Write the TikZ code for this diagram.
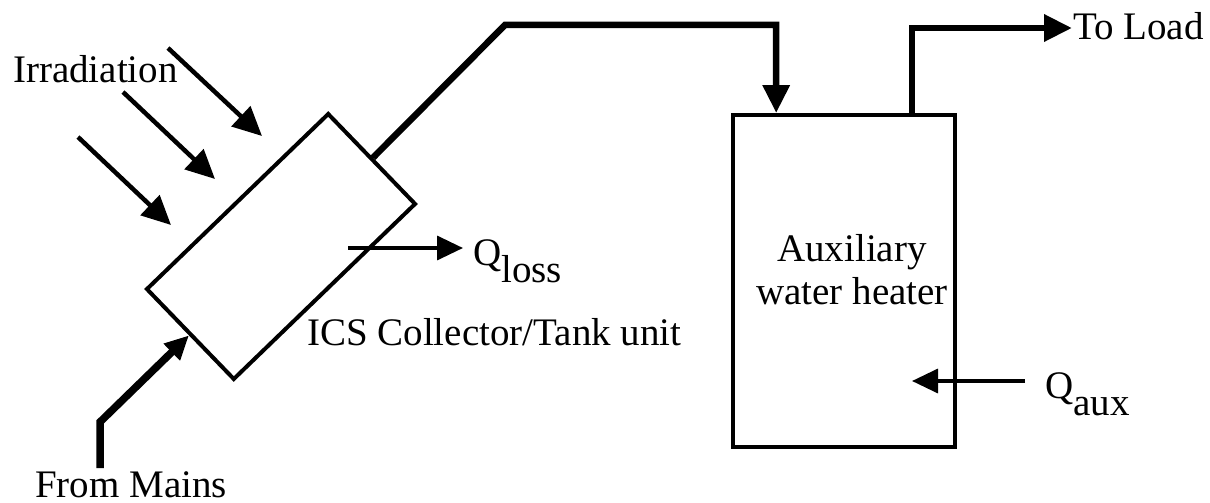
\documentclass[tikz,border=0pt]{standalone}
\usepackage{fontspec}
\setmainfont{Liberation Serif}
\usetikzlibrary{arrows.meta,calc}
\begin{document}
\begin{tikzpicture}[x=1pt,y=-1pt,
  every node/.style={font=\fontsize{39}{43}\selectfont, inner sep=0pt},
  txt/.style={anchor=base west},
  box/.style={draw, line width=4pt},
  ray/.style={line width=4.5pt, -{Triangle[length=29pt,width=27pt]}},
  flux/.style={line width=3.5pt, -{Triangle[length=26pt,width=24pt]}},
  pipe/.style={line width=6.5pt, -{Triangle[length=28pt,width=26pt]}},
  inpipe/.style={line width=7.5pt, -{Triangle[length=24pt,width=22pt]}}
]
\useasboundingbox (0,0) rectangle (1210,503);

% collector / tank unit
\node[box, rotate=44, minimum width=252pt, minimum height=125pt] (coll) at (281,246.5) {};
% auxiliary heater
\node[box, minimum width=222pt, minimum height=332pt] (heat) at (844,281) {};
\node[align=center] (hlabel) at (852,270) {Auxiliary\\water heater};

% texts
\node[txt] (irr) at (13,82) {Irradiation};
\node[txt] (mains) at (35,497) {From Mains};
\node[txt] (ics) at (307,345) {ICS Collector/Tank unit};
\node[txt] (load) at (1073,40) {To Load};
\node[txt] (qloss) at (473,265) {Q\raisebox{-17pt}{loss}};
\node[txt] (qaux) at (1045,398) {Q\raisebox{-17pt}{aux}};

% irradiation rays
\coordinate (r1s) at (168,48);  \coordinate (r1e) at (262,136);
\coordinate (r2s) at (123,92);  \coordinate (r2e) at (215,179);
\coordinate (r3s) at (78,137);  \coordinate (r3e) at (171,225);
\draw[ray] (r1s) -- (r1e);
\draw[ray] (r2s) -- (r2e);
\draw[ray] (r3s) -- (r3e);

% heat flows
\coordinate (ls) at (348,248); \coordinate (le) at (463,248);
\draw[flux] (ls) -- (le);
\coordinate (as) at (1025,381); \coordinate (ae) at (912,381);
\draw[flux] (as) -- (ae);

% pipes
\coordinate (ms) at (100,468);
\coordinate (mb) at (100,422);
\draw[inpipe] (ms) -- (mb) -- (coll.west);

\coordinate (hin) at ($(heat.north west)!0.2!(heat.north east)$);
\coordinate (hout) at ($(heat.north west)!0.8!(heat.north east)$);
\coordinate (pk) at (505,25);
\draw[pipe] (coll.east) -- (pk) -| (hin);
\draw[pipe] (hout) |- ($(load.base west)+(-1,-12)$);
\end{tikzpicture}
\end{document}
